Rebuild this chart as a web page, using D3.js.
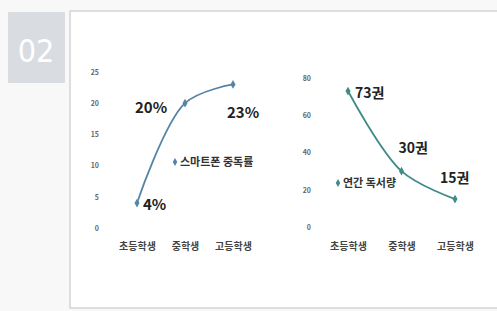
<!DOCTYPE html>
<html>
<head>
  <meta charset='utf-8'>
  <title>02</title>
  <script src='https://cdn.jsdelivr.net/npm/d3@7/dist/d3.min.js'></script>
  <style type='text/css'>
    body { margin: 0; background: #f8f8f8; }
    svg text { font-family: 'Noto Sans CJK KR', 'Noto Sans', sans-serif; }
  </style>
</head>
<body>
  <div id='plot-container'></div>
  <script>
    // chart data
    const grades = ['초등학생', '중학생', '고등학생'];
    const phoneRate = [4, 20, 23];
    const phoneLabels = ['4%', '20%', '23%'];
    const phoneTicks = [0, 5, 10, 15, 20, 25];
    const reading = [73, 30, 15];
    const readingLabels = ['73권', '30권', '15권'];
    const readingTicks = [0, 20, 40, 60, 80];

    const svg = d3.select('#plot-container').append('svg')
        .attr('width', 497)
        .attr('height', 311);

    // badge and frame
    svg.append('rect')
        .attr('x', 8).attr('y', 12).attr('width', 57).attr('height', 71)
        .attr('fill', '#d9dde1');
    svg.append('text')
        .attr('x', 36).attr('y', 62)
        .attr('text-anchor', 'middle')
        .attr('fill', '#ffffff')
        .attr('font-size', 32)
        .attr('font-weight', 300)
        .style('font-family', "'Liberation Sans Narrow', 'DejaVu Sans Condensed', sans-serif")
        .text('02');
    svg.append('rect')
        .attr('x', 70).attr('y', 11).attr('width', 440).attr('height', 297)
        .attr('fill', '#ffffff')
        .attr('stroke', '#d4d4d4')
        .attr('stroke-width', 1.5);

    // draws one small line chart
    function drawChart(opts) {
        const x = d3.scalePoint()
            .domain(grades)
            .range(opts.xRange);
        const y = d3.scaleLinear()
            .domain(opts.yDomain)
            .range(opts.yRange);
        const g = svg.append('g');

        const yAxis = g.append('g')
            .attr('transform', `translate(${opts.axisX}, 0)`)
            .call(d3.axisLeft(y).tickValues(opts.ticks).tickSize(0).tickPadding(0));
        yAxis.select('.domain').remove();
        yAxis.selectAll('text')
            .attr('font-size', 7)
            .attr('fill', '#666')
            .attr('font-weight', 'bold');

        const xAxis = g.append('g')
            .attr('transform', `translate(0, ${opts.labelY})`)
            .call(d3.axisBottom(x).tickSize(0).tickPadding(0));
        xAxis.select('.domain').remove();
        xAxis.selectAll('text')
            .attr('font-size', 10)
            .attr('fill', '#444')
            .attr('font-weight', 'bold');

        const pts = grades.map((c, i) => [x(c), y(opts.values[i])]);
        g.append('path')
            .attr('d', d3.line().curve(d3.curveCatmullRom.alpha(0.5))(pts))
            .attr('fill', 'none')
            .attr('stroke', opts.color)
            .attr('stroke-width', 1.8);
        g.selectAll('.dot')
            .data(pts)
            .enter()
            .append('path')
            .attr('class', 'dot')
            .attr('transform', d => `translate(${d[0]}, ${d[1]})`)
            .attr('d', d3.symbol(d3.symbolDiamond, 22))
            .attr('fill', opts.color);

        g.selectAll('.value-label')
            .data(opts.labels)
            .enter()
            .append('text')
            .attr('class', 'value-label')
            .attr('x', (d, i) => x(grades[i]) + opts.labelDx[i])
            .attr('y', (d, i) => y(opts.values[i]) + opts.labelDy[i])
            .attr('font-size', opts.labelSize)
            .attr('font-weight', 'bold')
            .attr('fill', '#222')
            .text(d => d);

        const legend = g.append('g')
            .attr('transform', `translate(${opts.legend[0]}, ${opts.legend[1]})`);
        legend.append('path')
            .attr('d', d3.symbol(d3.symbolDiamond, 18))
            .attr('fill', opts.color);
        legend.append('text')
            .attr('x', 5).attr('y', 4)
            .attr('font-size', 11)
            .attr('font-weight', 'bold')
            .attr('fill', '#333')
            .text(opts.name);
    }

    drawChart({
        values: phoneRate,
        labels: phoneLabels,
        ticks: phoneTicks,
        yDomain: [0, 25],
        yRange: [228, 72],
        xRange: [137, 233],
        axisX: 99,
        labelY: 243,
        color: '#5585a6',
        labelSize: 15,
        labelDx: [6, -50, -6],
        labelDy: [7, 10, 34],
        legend: [175, 162],
        name: '스마트폰 중독률'
    });

    drawChart({
        values: reading,
        labels: readingLabels,
        ticks: readingTicks,
        yDomain: [0, 80],
        yRange: [227, 78],
        xRange: [348, 455],
        axisX: 311,
        labelY: 243,
        color: '#3f8b88',
        labelSize: 14,
        labelDx: [7, -3, -15],
        labelDy: [7, -18, -16],
        legend: [338, 183],
        name: '연간 독서량'
    });
  </script>
</body>
</html>
